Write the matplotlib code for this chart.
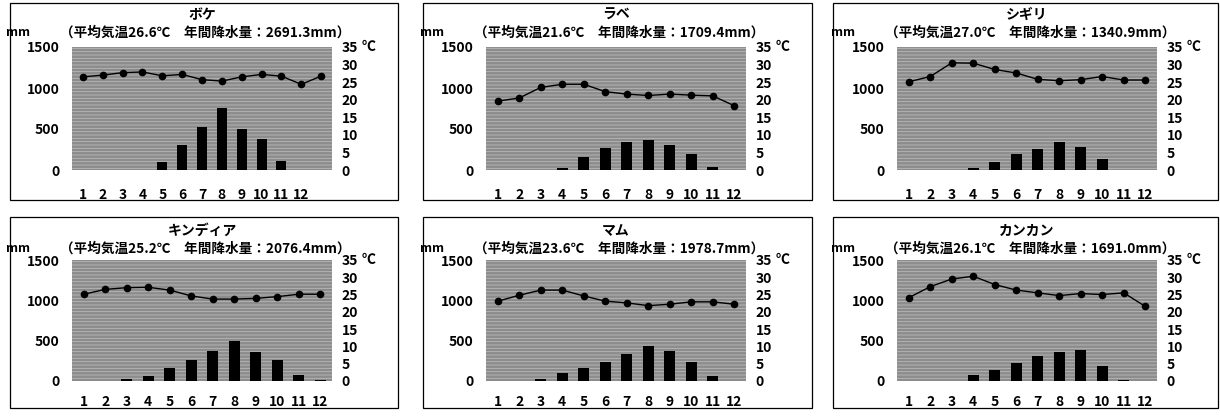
import matplotlib
matplotlib.use("Agg")
import matplotlib.pyplot as plt
from matplotlib.patches import Rectangle

plt.rcParams['font.family'] = ['Noto Sans CJK JP', 'DejaVu Sans']
plt.rcParams['hatch.linewidth'] = 0.6

# データ（月別降水量 mm / 月平均気温 ℃）
months = list(range(1, 13))
stations = ['ボケ', 'ラベ', 'シギリ', 'キンディア', 'マム', 'カンカン']
mean_temp = [26.6, 21.6, 27.0, 25.2, 23.6, 26.1]
annual_rain = [2691.3, 1709.4, 1340.9, 2076.4, 1978.7, 1691.0]

boke_rain = [0, 0, 0, 3, 95, 310, 520, 760, 505, 380, 115, 3]
boke_temp = [26.5, 27.0, 27.7, 27.9, 26.8, 27.2, 25.7, 25.3, 26.5, 27.2, 26.7, 24.4, 26.7]

labe_rain = [1, 1, 5, 30, 155, 265, 345, 365, 305, 200, 35, 2]
labe_temp = [19.6, 20.5, 23.5, 24.4, 24.4, 22.3, 21.6, 21.2, 21.6, 21.3, 21.1, 18.3]

siguiri_rain = [1, 1, 3, 30, 100, 195, 255, 345, 275, 130, 5, 1]
siguiri_temp = [25.1, 26.6, 30.5, 30.4, 28.6, 27.6, 25.8, 25.4, 25.7, 26.6, 25.6, 25.6]

kindia_rain = [2, 2, 20, 65, 155, 255, 375, 495, 362, 262, 75, 8]
kindia_temp = [25.1, 26.5, 27.0, 27.1, 26.3, 24.6, 23.7, 23.7, 23.9, 24.4, 25.1, 25.1]

mamou_rain = [1, 3, 25, 95, 165, 240, 335, 435, 370, 240, 65, 5]
mamou_temp = [23.1, 24.8, 26.3, 26.3, 24.6, 23.1, 22.6, 21.8, 22.2, 22.9, 22.9, 22.2]

kankan_rain = [0, 1, 5, 75, 140, 220, 305, 360, 380, 190, 15, 0]
kankan_temp = [24.1, 27.3, 29.5, 30.3, 27.9, 26.3, 25.5, 24.7, 25.3, 25.0, 25.5, 21.6]

rain_ticks = [0, 500, 1000, 1500]
temp_ticks = [0, 5, 10, 15, 20, 25, 30, 35]

rains = [boke_rain, labe_rain, siguiri_rain, kindia_rain, mamou_rain, kankan_rain]
temps = [boke_temp, labe_temp, siguiri_temp, kindia_temp, mamou_temp, kankan_temp]

W, H = 1220, 416
fig = plt.figure(figsize=(W / 100, H / 100), dpi=100)

def fx(x):
    return x / W

def fy(y):
    return 1 - y / H

# レイアウト（ピクセル）
box_cols = [(10, 398), (423, 812), (833, 1218)]
box_rows = [(3, 200), (217, 408)]
ax_lefts = [72, 486, 897]
ax_width = 260
ax_rows = [(47, 170), (260, 381)]
x_pad = [13, 10]
title_y = [15, 231]
sub_y = [33, 249]

bg = '#8c8c8c'
streak = '#bababa'
tfont = dict(fontsize=10, fontweight='bold')

for i, name in enumerate(stations):
    r, c = divmod(i, 3)
    bx0, bx1 = box_cols[c]
    by0, by1 = box_rows[r]
    fig.add_artist(Rectangle((fx(bx0), fy(by1)), fx(bx1 - bx0), (by1 - by0) / H,
                             transform=fig.transFigure, fill=False,
                             edgecolor='black', linewidth=0.9))

    top, bot = ax_rows[r]
    left = ax_lefts[c]
    ax = fig.add_axes([fx(left), fy(bot), fx(ax_width), (bot - top) / H])
    ax.add_patch(Rectangle((0, 0), 1, 1, transform=ax.transAxes, facecolor=bg,
                           edgecolor=streak, hatch='-----', linewidth=0, zorder=0))
    ax.bar(months, rains[i], width=0.5, color='black', zorder=2)
    ax.set_ylim(0, 1500)
    ax.set_yticks(rain_ticks)
    ax.set_xticks(months)
    ax.set_xticklabels([str(m) for m in months], **tfont)
    ax.set_yticklabels([str(t) for t in rain_ticks], **tfont)
    ax.tick_params(axis='both', length=0)
    ax.tick_params(axis='x', pad=x_pad[r])
    ax.tick_params(axis='y', pad=9)

    ax2 = ax.twinx()
    tx = list(range(1, len(temps[i]) + 1))
    ax2.plot(tx, temps[i], color='black', linewidth=1.0, marker='o', markersize=4.5)
    ax2.set_ylim(0, 35)
    ax2.set_yticks(temp_ticks)
    ax2.set_yticklabels([str(t) for t in temp_ticks], **tfont)
    ax2.tick_params(axis='y', length=0, pad=7)
    xmax = len(temps[i]) + 0.55
    ax.set_xlim(0.45, xmax)
    ax2.set_xlim(0.45, xmax)
    for a in (ax, ax2):
        for s in a.spines.values():
            s.set_visible(False)

    cx = fx(left + ax_width / 2)
    fig.text(cx, fy(title_y[r]), name, ha='center', va='center', **tfont)
    sub = '（平均気温{:.1f}℃　年間降水量：{:.1f}mm）'.format(mean_temp[i], annual_rain[i])
    fig.text(cx + fx(3), fy(sub_y[r]), sub, ha='center', va='center', fontsize=9.8, fontweight='bold')
    fig.text(fx(left - 66), fy(sub_y[r]), 'mm', ha='left', va='center', fontsize=9, fontweight='bold')
    fig.text(fx(left + ax_width + 30), fy(top), '℃', ha='left', va='center', **tfont)

fig.savefig('out.png', dpi=100)
